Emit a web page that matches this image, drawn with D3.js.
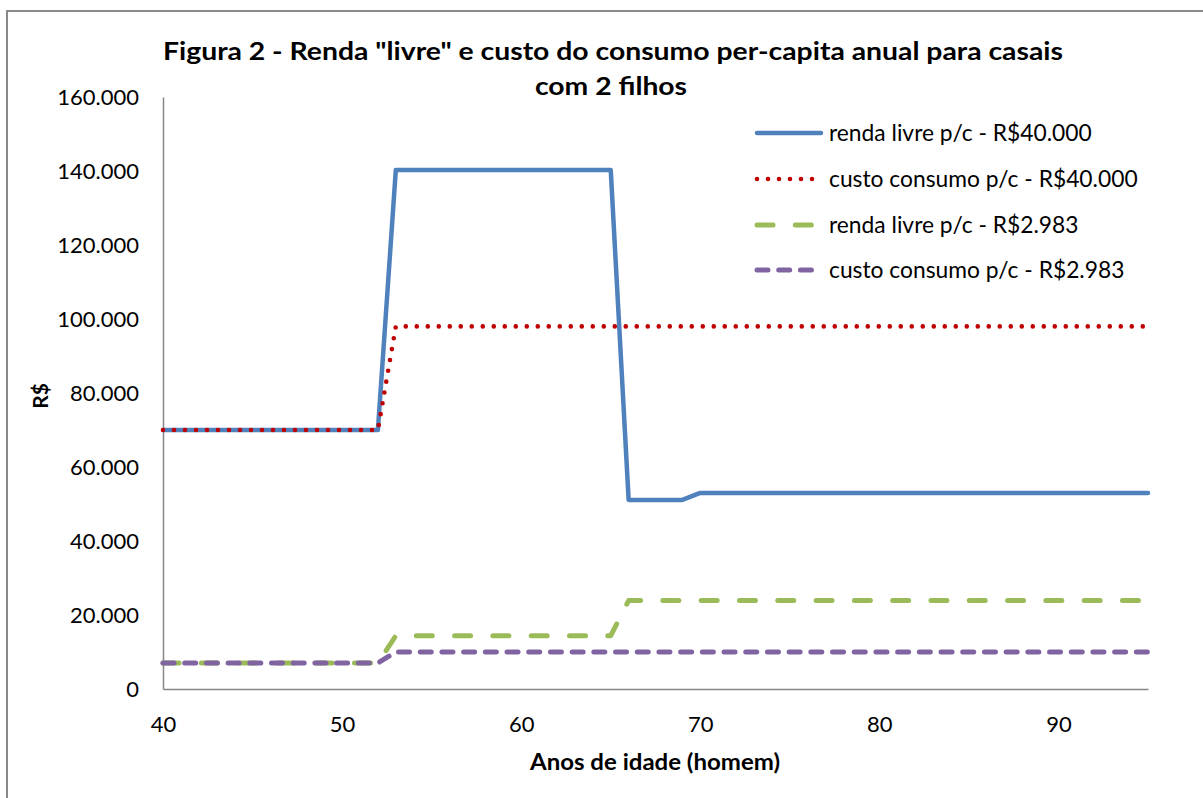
<!DOCTYPE html>
<html>
<head>
<meta charset="utf-8">
<script src="https://cdn.jsdelivr.net/npm/d3@7/dist/d3.min.js"></script>
<style>
  html, body { margin: 0; padding: 0; background: #fff; }
  svg { display: block; }
  text { font-family: Lato, "Liberation Sans", sans-serif; fill: #000; }
</style>
</head>
<body>
<svg id="chart" width="1203" height="798"></svg>
<script>
// ---- Data ----
const ages = [40,41,42,43,44,45,46,47,48,49,50,51,52,53,54,55,56,57,58,59,60,61,62,63,64,65,66,67,68,69,70,71,72,73,74,75,76,77,78,79,80,81,82,83,84,85,86,87,88,89,90,91,92,93,94,95];

const rendaLivre40k = [
  70000,70000,70000,70000,70000,70000,70000,70000,70000,70000,70000,70000,70000,
  140300,140300,140300,140300,140300,140300,140300,140300,140300,140300,140300,140300,140300,
  51100,51100,51100,51100,
  53000,53000,53000,53000,53000,53000,53000,53000,53000,53000,53000,53000,53000,
  53000,53000,53000,53000,53000,53000,53000,53000,53000,53000,53000,53000,53000
];
const custoConsumo40k = [
  70000,70000,70000,70000,70000,70000,70000,70000,70000,70000,70000,70000,70000,
  98000,98000,98000,98000,98000,98000,98000,98000,98000,98000,98000,98000,98000,
  98000,98000,98000,98000,98000,98000,98000,98000,98000,98000,98000,98000,98000,
  98000,98000,98000,98000,98000,98000,98000,98000,98000,98000,98000,98000,98000,
  98000,98000,98000,98000
];
const rendaLivre2983 = [
  7000,7000,7000,7000,7000,7000,7000,7000,7000,7000,7000,7000,7000,
  14400,14400,14400,14400,14400,14400,14400,14400,14400,14400,14400,14400,14400,
  23900,23900,23900,23900,23900,23900,23900,23900,23900,23900,
  23900,23900,23900,23900,23900,23900,23900,23900,23900,23900,
  23900,23900,23900,23900,23900,23900,23900,23900,23900,23900
];
const custoConsumo2983 = [
  7000,7000,7000,7000,7000,7000,7000,7000,7000,7000,7000,7000,7000,
  10000,10000,10000,10000,10000,10000,10000,10000,10000,10000,10000,10000,10000,
  10000,10000,10000,10000,10000,10000,10000,10000,10000,10000,10000,10000,10000,
  10000,10000,10000,10000,10000,10000,10000,10000,10000,10000,10000,10000,10000,
  10000,10000,10000,10000
];

const seriesNames = [
  "renda livre p/c - R$40.000",
  "custo consumo p/c - R$40.000",
  "renda livre p/c - R$2.983",
  "custo consumo p/c - R$2.983"
];
const xTicks = [40, 50, 60, 70, 80, 90];
const yTicks = [0, 20000, 40000, 60000, 80000, 100000, 120000, 140000, 160000];
const titleLines = ["Figura 2 - Renda \"livre\" e custo do consumo per-capita anual para casais", "com 2 filhos"];
const xTitle = "Anos de idade (homem)";
const yTitle = "R$";

// ---- Styles ----
const styles = [
  { color: "#4F81BD", width: 4.5, dash: null,      cap: "round" },
  { color: "#C00000", width: 4.6, dash: "0,11",    cap: "round" },
  { color: "#9BBB59", width: 5,   dash: "16,22.3", cap: "round" },
  { color: "#8064A2", width: 5,   dash: "11,10.7", cap: "round" }
];
const seriesValues = [rendaLivre40k, custoConsumo40k, rendaLivre2983, custoConsumo2983];

const svg = d3.select("#chart");

// outer border
svg.append("rect")
  .attr("x", 7).attr("y", 11).attr("width", 1300).attr("height", 900)
  .attr("fill", "none").attr("stroke", "#8a8a8a").attr("stroke-width", 2);

const x = d3.scaleLinear().domain([40, 95]).range([163, 1148]);
const y = d3.scaleLinear().domain([0, 160000]).range([689, 97]);

const loc = d3.formatLocale({ decimal: ",", thousands: ".", grouping: [3], currency: ["R$", ""] });
const fmt = loc.format(",d");

// axes
const yAxis = d3.axisLeft(y).tickValues(yTicks).tickSize(0).tickPadding(24).tickFormat(fmt);
const gy = svg.append("g").attr("transform", "translate(163,0)").call(yAxis);
gy.select(".domain").attr("stroke", "#868686").attr("stroke-width", 1.5);
gy.selectAll("text").attr("font-size", 22).attr("font-family", "Lato, 'Liberation Sans', sans-serif").attr("fill", "#000");

const xAxis = d3.axisBottom(x).tickValues(xTicks).tickSize(0).tickPadding(27).tickFormat(d3.format("d"));
const gx = svg.append("g").attr("transform", "translate(0,689)").call(xAxis);
gx.select(".domain").attr("stroke", "#868686").attr("stroke-width", 1.5);
gx.selectAll("text").attr("font-size", 22).attr("font-family", "Lato, 'Liberation Sans', sans-serif").attr("fill", "#000");

// lines
const line = d3.line().x((d, i) => x(ages[i])).y(d => y(d));
seriesValues.forEach((vals, k) => {
  const s = styles[k];
  const p = svg.append("path")
    .attr("d", line(vals))
    .attr("fill", "none")
    .attr("stroke", s.color)
    .attr("stroke-width", s.width)
    .attr("stroke-linecap", s.cap)
    .attr("stroke-linejoin", "round");
  if (s.dash) p.attr("stroke-dasharray", s.dash);
});

// legend
const legendRowsY = [133, 179, 225, 270];
seriesNames.forEach((name, k) => {
  const s = styles[k];
  const ly = legendRowsY[k];
  const p = svg.append("line")
    .attr("x1", 757).attr("x2", k === 0 ? 821 : 822)
    .attr("y1", ly).attr("y2", ly)
    .attr("stroke", s.color).attr("stroke-width", s.width)
    .attr("stroke-linecap", s.cap);
  if (s.dash) p.attr("stroke-dasharray", s.dash);
  svg.append("text")
    .attr("x", 829).attr("y", ly).attr("dy", "0.35em")
    .attr("font-size", 22.8)
    .text(name);
});

// title
svg.append("text")
  .attr("x", 613).attr("y", 60)
  .attr("text-anchor", "middle").attr("font-size", 25).attr("font-weight", "bold")
  .attr("textLength", 900).attr("lengthAdjust", "spacingAndGlyphs")
  .text(titleLines[0]);
svg.append("text")
  .attr("x", 611).attr("y", 95)
  .attr("text-anchor", "middle").attr("font-size", 25).attr("font-weight", "bold")
  .attr("textLength", 152).attr("lengthAdjust", "spacingAndGlyphs")
  .text(titleLines[1]);

// axis titles
svg.append("text")
  .attr("x", 655).attr("y", 770)
  .attr("text-anchor", "middle").attr("font-size", 22).attr("font-weight", "bold")
  .attr("textLength", 250).attr("lengthAdjust", "spacingAndGlyphs")
  .text(xTitle);
svg.append("text")
  .attr("transform", "translate(48,396) rotate(-90)")
  .attr("text-anchor", "middle").attr("font-size", 21).attr("font-weight", "bold")
  .text(yTitle);
</script>
</body>
</html>
